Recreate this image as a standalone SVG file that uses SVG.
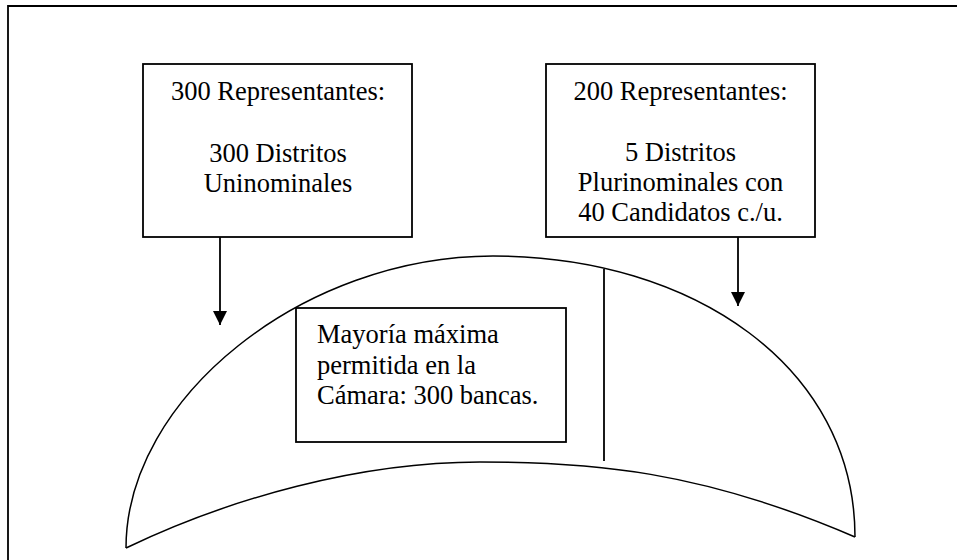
<svg xmlns="http://www.w3.org/2000/svg" width="957" height="560" viewBox="0 0 957 560">
<defs>
<style>
.box{fill:#fff;stroke:#000;stroke-width:1.8}
.ln{fill:none;stroke:#000;stroke-width:1.8}
.cv{fill:none;stroke:#000;stroke-width:1.5}
.t{font-family:"Liberation Serif","Times New Roman",serif;font-size:26.5px;fill:#000}
.c{text-anchor:middle}
</style>
<marker id="ah" markerWidth="14" markerHeight="14" refX="14" refY="7" orient="auto" markerUnits="userSpaceOnUse">
<path d="M0,0 L14,7 L0,14 Z" fill="#000"/>
</marker>
</defs>
<rect width="957" height="560" fill="#fff"/>
<path id="frame" class="ln" d="M8,562 V6 H960"/>
<g id="chamber">
<path class="cv" d="M126,548 C126,398 303,256 493,256 C693,256 855,367 855,537"/>
<path class="cv" d="M126,548 C230,498 360,462 480,462 C590,462 700,470 855,537"/>
</g>
<g id="divider">
<line class="ln" x1="604" y1="269" x2="604" y2="461"/>
</g>
<g id="connectors">
<line class="ln" x1="220" y1="237" x2="220" y2="325" marker-end="url(#ah)"/>
<line class="ln" x1="738" y1="237" x2="738" y2="306" marker-end="url(#ah)"/>
</g>
<g id="box1">
<rect class="box" x="143" y="64" width="269" height="173"/>
<text class="t c" x="278" y="100">300 Representantes:</text>
<text class="t c" x="278" y="161.5">300 Distritos</text>
<text class="t c" x="278" y="191.5">Uninominales</text>
</g>
<g id="box2">
<rect class="box" x="546" y="64" width="269" height="173"/>
<text class="t c" x="680.5" y="100">200 Representantes:</text>
<text class="t c" x="680.5" y="161">5 Distritos</text>
<text class="t c" x="680.5" y="191">Plurinominales con</text>
<text class="t c" x="680.5" y="221">40 Candidatos c./u.</text>
</g>
<g id="box3">
<rect class="box" x="296" y="308" width="270" height="134"/>
<text class="t" x="317" y="343">Mayoría máxima</text>
<text class="t" x="317" y="373.5">permitida en la</text>
<text class="t" x="317" y="404">Cámara: 300 bancas.</text>
</g>
</svg>
